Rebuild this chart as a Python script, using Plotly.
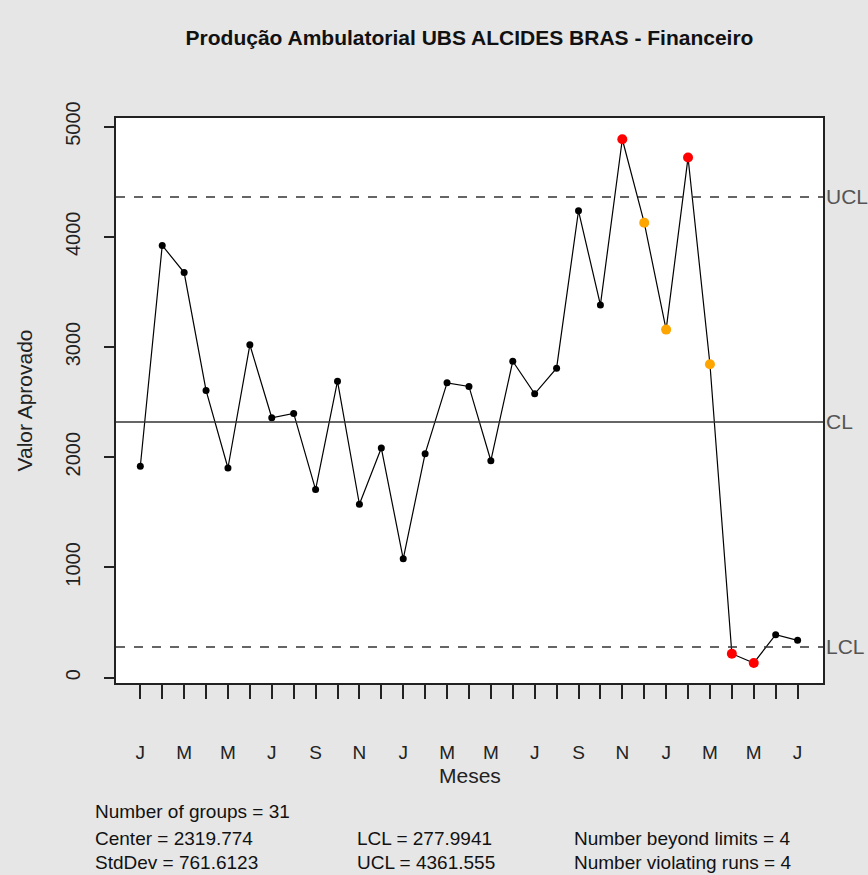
import plotly.graph_objects as go

# Monthly approved value (31 months, starting in January)
months = ["J", "F", "M", "A", "M", "J", "J", "A", "S", "O", "N", "D",
          "J", "F", "M", "A", "M", "J", "J", "A", "S", "O", "N", "D",
          "J", "F", "M", "A", "M", "J", "J"]
valor = [1918, 3922, 3675, 2606, 1902, 3020, 2358, 2397, 1706, 2690,
         1573, 2083, 1078, 2032, 2675, 2642, 1968, 2871, 2575, 2808,
         4236, 3382, 4885, 4128, 3158, 4719, 2844, 217, 133, 389, 338]
run_violations = [24, 25, 27]  # 1-based group numbers flagged by run rules

center = 2319.774
lcl = 277.9941
ucl = 4361.555
std_dev = 761.6123

groups = list(range(1, len(valor) + 1))
tick_text = [m if i % 2 == 0 else "" for i, m in enumerate(months)]

colors, sizes = [], []
for g, v in zip(groups, valor):
    if v > ucl or v < lcl:
        colors.append("#ff0000"); sizes.append(10)
    elif g in run_violations:
        colors.append("#ffa500"); sizes.append(10)
    else:
        colors.append("#000000"); sizes.append(7)

FONT = "Liberation Sans, Arial, sans-serif"

# plot area in pixels
L, R, T, B = 116, 823, 118, 683
W, H = 868, 875
PW, PH = R - L, B - T

fig = go.Figure()
fig.add_trace(go.Scatter(
    x=groups, y=valor, mode="lines+markers",
    line=dict(color="#000000", width=1.2),
    marker=dict(color=colors, size=sizes, opacity=1, line=dict(width=0)),
    hoverinfo="x+y", showlegend=False,
))

x0, x1 = -0.11, 32.16
for val, dash, lab in [(ucl, "dash", "UCL"), (center, "solid", "CL"), (lcl, "dash", "LCL")]:
    fig.add_shape(type="line", xref="x", yref="y", x0=x0, x1=x1, y0=val, y1=val,
                  line=dict(color="#333333", width=1.6, dash=dash))
    fig.add_annotation(x=1.0, xref="paper", y=val, yref="y", text=lab,
                       showarrow=False, xanchor="left", xshift=1,
                       font=dict(family=FONT, size=21, color="#555555"))

fig.update_layout(
    width=W, height=H,
    margin=dict(l=L, r=W - R, t=T, b=H - B),
    paper_bgcolor="#e6e6e6", plot_bgcolor="#ffffff",
    font=dict(family=FONT, size=18, color="#222222"),
    title=dict(text="<b>Produção Ambulatorial UBS ALCIDES BRAS - Financeiro</b>",
               x=(L + R) / 2 / W, xanchor="center", y=1 - 38 / H, yanchor="middle",
               font=dict(family=FONT, size=21, color="#111111")),
)
fig.update_xaxes(
    range=[x0, x1], tickmode="array", tickvals=groups, ticktext=tick_text,
    ticks="outside", ticklen=14, tickwidth=1.5, tickcolor="#222222",
    ticklabelstandoff=37, tickfont=dict(size=19, color="#222222"),
    showgrid=False, zeroline=False, showline=True, mirror=True,
    linecolor="#222222", linewidth=1.5,
)
fig.update_yaxes(
    range=[-49, 5078], tickmode="array", tickvals=[0, 1000, 2000, 3000, 4000, 5000],
    ticks="outside", ticklen=10, tickwidth=1.5, tickcolor="#222222",
    tickangle=-90, ticklabelstandoff=16, tickfont=dict(size=20, color="#222222"),
    showgrid=False, zeroline=False, showline=True, mirror=True,
    linecolor="#222222", linewidth=1.5,
)

fig.add_annotation(text="Meses", x=0.5, xref="paper", y=-(775 - B) / PH,
                   yref="paper", showarrow=False, xanchor="center", yanchor="middle",
                   font=dict(family=FONT, size=21, color="#222222"))
fig.add_annotation(text="Valor Aprovado", x=-(L - 24) / PW, xref="paper", y=0.5,
                   yref="paper", showarrow=False, textangle=-90, xanchor="center",
                   yanchor="middle", font=dict(family=FONT, size=21, color="#222222"))

stats = [
    ("Number of groups = %d" % len(valor), 93, 811),
    ("Center = %.3f" % center, 93, 838),
    ("StdDev = %.4f" % std_dev, 93, 862),
    ("LCL = %.4f" % lcl, 355, 838),
    ("UCL = %.3f" % ucl, 355, 862),
    ("Number beyond limits = 4", 572, 838),
    ("Number violating runs = 4", 572, 862),
]
for txt, px, py in stats:
    fig.add_annotation(text=txt, x=(px - L) / PW, xref="paper",
                       y=-(py - B) / PH, yref="paper", showarrow=False,
                       xanchor="left", yanchor="middle",
                       font=dict(family=FONT, size=19, color="#111111"))

fig.write_html("out.html")
